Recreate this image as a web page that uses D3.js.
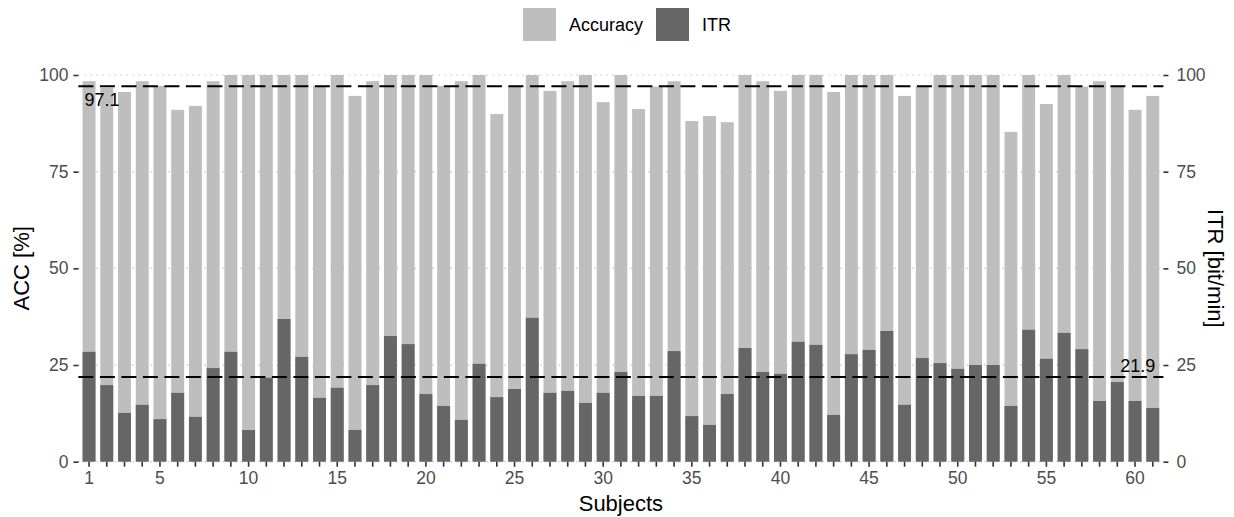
<!DOCTYPE html>
<html>
<head>
<meta charset="utf-8">
<script src="https://cdn.jsdelivr.net/npm/d3@7"></script>
<style>
  body { margin: 0; background: #fff; }
  svg { font-family: "Liberation Sans", Arial, sans-serif; }
</style>
</head>
<body>
<svg id="chart" width="1234" height="517"></svg>
<script>
// subjects 1..61
var subjects = [1,2,3,4,5,6,7,8,9,10,11,12,13,14,15,16,17,18,19,20,
  21,22,23,24,25,26,27,28,29,30,31,32,33,34,35,36,37,38,39,40,
  41,42,43,44,45,46,47,48,49,50,51,52,53,54,55,56,57,58,59,60,61]

var accuracy = [98.4,96.7,95.6,98.4,97.2,91.0,92.0,98.4,100,100,100,100,100,97.2,100,94.6,
  98.4,100,100,100,97.2,98.4,100,89.9,97.0,100,95.9,98.4,100,93.0,100,91.2,
  97.0,98.4,88.1,89.4,87.8,100,98.4,95.9,100,100,95.6,100,100,100,94.6,97.0,
  100,100,100,100,85.3,100,92.5,100,97.0,98.4,97.0,91.0,94.6]

var itr = [28.4,19.8,12.6,14.7,11.0,17.8,11.6,24.2,28.4,8.2,21.7,36.9,27.1,16.5,19.1,8.2,
  19.8,32.5,30.4,17.5,14.4,10.8,25.3,16.7,18.8,37.2,17.8,18.3,15.2,17.8,23.2,17.0,
  17.0,28.6,11.8,9.5,17.5,29.4,23.2,22.7,31.0,30.2,12.1,27.8,28.9,33.8,14.7,26.8,
  25.5,24.0,25.0,25.0,14.4,34.1,26.6,33.3,29.1,15.7,20.6,15.7,13.9]

var xTickLabels = [1,5,10,15,20,25,30,35,40,45,50,55,60]
var yTicks = [0,25,50,75,100]
var meanAcc = 97.1, meanItr = 21.9

var svg = d3.select("#chart")
var pLeft = 78.4, pRight = 1163.4, pTop = 75, pBottom = 461.7
var accColor = "#bebebe", itrColor = "#666666"

var x = d3.scaleBand().domain(subjects).range([pLeft, pRight]).paddingInner(0).paddingOuter(0.1)
var y = d3.scaleLinear().domain([0, 100]).range([pBottom, pTop])
var yR = d3.scaleLinear().domain([0, 100]).range([pBottom, pTop])
var barW = x.step() * 0.73

// grid
svg.append("g")
  .selectAll("line")
  .data(yTicks)
  .enter()
  .append("line")
  .attr("x1", pLeft).attr("x2", pRight)
  .attr("y1", function(d){ return y(d) }).attr("y2", function(d){ return y(d) })
  .style("stroke", "#c4c4c4")
  .style("stroke-width", 1.2)
  .style("stroke-dasharray", "1.5 4.5")

// accuracy bars
svg.append("g")
  .selectAll("rect")
  .data(subjects)
  .enter()
  .append("rect")
  .attr("x", function(d){ return x(d) + (x.step() - barW) / 2 })
  .attr("y", function(d, i){ return y(accuracy[i]) })
  .attr("width", barW)
  .attr("height", function(d, i){ return pBottom - y(accuracy[i]) })
  .style("fill", accColor)

// itr bars
svg.append("g")
  .selectAll("rect")
  .data(subjects)
  .enter()
  .append("rect")
  .attr("x", function(d){ return x(d) + (x.step() - barW) / 2 })
  .attr("y", function(d, i){ return yR(itr[i]) })
  .attr("width", barW)
  .attr("height", function(d, i){ return pBottom - yR(itr[i]) })
  .style("fill", itrColor)

// mean lines
;[meanAcc, meanItr].forEach(function(m){
  svg.append("line")
    .attr("x1", pLeft).attr("x2", pRight)
    .attr("y1", y(m)).attr("y2", y(m))
    .style("stroke", "#000")
    .style("stroke-width", 2)
    .style("stroke-dasharray", "15 6.5")
})
svg.append("text")
  .attr("x", x(1) + (x.step() - barW) / 2 + 2)
  .attr("y", y(meanAcc) + 20)
  .style("font-size", "18px")
  .text(meanAcc.toFixed(1))
svg.append("text")
  .attr("x", pRight - 8)
  .attr("y", yR(meanItr) - 5)
  .attr("text-anchor", "end")
  .style("font-size", "18px")
  .text(meanItr.toFixed(1))

// axes
var xAxis = d3.axisBottom(x).tickSize(5).tickPadding(5)
  .tickFormat(function(d){ return xTickLabels.indexOf(d) >= 0 ? d : "" })
var yAxis = d3.axisLeft(y).tickValues(yTicks).tickSize(5).tickPadding(5)
var yAxisR = d3.axisRight(yR).tickValues(yTicks).tickSize(5).tickPadding(8)

function styleAxis(g){
  g.select(".domain").remove()
  g.selectAll(".tick line").style("stroke", "#333").style("stroke-width", 1.6)
  g.selectAll(".tick text").style("fill", "#4d4d4d").style("font-size", "17.5px")
    .style("font-family", "'Liberation Sans', Arial, sans-serif")
}

svg.append("g").attr("transform", "translate(0," + pBottom + ")").call(xAxis).call(styleAxis)
svg.append("g").attr("transform", "translate(" + pLeft + ",0)").call(yAxis).call(styleAxis)
svg.append("g").attr("transform", "translate(" + pRight + ",0)").call(yAxisR).call(styleAxis)

// titles
svg.append("text")
  .attr("x", (pLeft + pRight) / 2).attr("y", 511)
  .attr("text-anchor", "middle")
  .style("font-size", "22px")
  .text("Subjects")
svg.append("text")
  .attr("transform", "translate(29," + (pTop + pBottom) / 2 + ") rotate(-90)")
  .attr("text-anchor", "middle")
  .style("font-size", "22px")
  .text("ACC [%]")
svg.append("text")
  .attr("transform", "translate(1208," + (pTop + pBottom) / 2 + ") rotate(90)")
  .attr("text-anchor", "middle")
  .style("font-size", "22px")
  .text("ITR [bit/min]")

// legend
var legendItems = [{name: "Accuracy", color: accColor, x: 523}, {name: "ITR", color: itrColor, x: 656}]
var legend = svg.append("g")
legend.selectAll("rect")
  .data(legendItems)
  .enter()
  .append("rect")
  .attr("x", function(d){ return d.x })
  .attr("y", 8)
  .attr("width", 33).attr("height", 33)
  .style("fill", function(d){ return d.color })
legend.selectAll("text")
  .data(legendItems)
  .enter()
  .append("text")
  .attr("x", function(d){ return d.x + 46 })
  .attr("y", 31)
  .style("font-size", "18px")
  .text(function(d){ return d.name })
</script>
</body>
</html>
